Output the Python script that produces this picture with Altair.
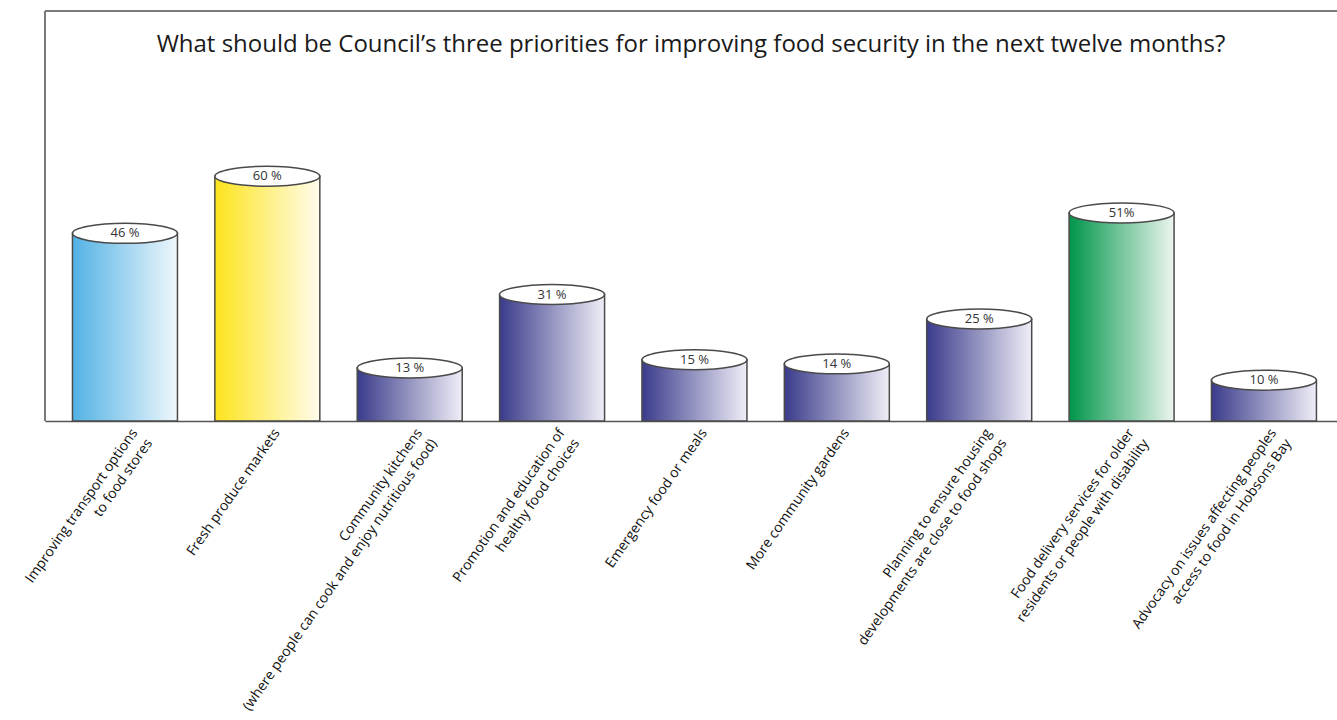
import altair as alt
import pandas as pd

title_text = "What should be Council\u2019s three priorities for improving food security in the next twelve months?"

categories = [
    "Improving transport options\nto food stores",
    "Fresh produce markets",
    "Community kitchens\n(where people can cook and enjoy nutritious food)",
    "Promotion and education of\nhealthy food choices",
    "Emergency food or meals",
    "More community gardens",
    "Planning to ensure housing\ndevelopments are close to food shops",
    "Food delivery services for older\nresidents or people with disability",
    "Advocacy on issues affecting peoples\naccess to food in Hobsons Bay",
]
values = [46, 60, 13, 31, 15, 14, 25, 51, 10]
value_labels = ["46 %", "60 %", "13 %", "31 %", "15 %", "14 %", "25 %", "51%", "10 %"]
groups = ["blue", "yellow", "navy", "navy", "navy", "navy", "navy", "green", "navy"]

gradient_stops = {
    "blue": ["#52b2e4", "#eff7fc"],
    "yellow": ["#fde41c", "#fffcec"],
    "navy": ["#3a3b8b", "#efeef7"],
    "green": ["#00964a", "#ecf5ee"],
}

df = pd.DataFrame({"category": categories, "value": values,
                   "label": value_labels, "group": groups})

W = 1292
H = 410

x_enc = alt.X("category:N", sort=categories,
              scale=alt.Scale(domain=categories, paddingInner=0.2626,
                              paddingOuter=0.1687, align=0.572),
              axis=alt.Axis(title=None, labelAngle=-55, labelAlign="right",
                            labelBaseline="top", labelPadding=5, labelOffset=4,
                            labelExpr="split(datum.label, '\\n')",
                            labelFont="Open Sans", labelFontSize=14,
                            labelColor="#111", labelLineHeight=18,
                            ticks=False, domainColor="#555", domainWidth=1.6,
                            labelLimit=0, labelOverlap=False))
y_enc = alt.Y("value:Q", scale=alt.Scale(domain=[0, 100.5], nice=False),
              axis=None)

base = alt.Chart(df)

layers = []
for g, (c0, c1) in gradient_stops.items():
    grad = alt.Gradient(gradient="linear",
                        stops=[alt.GradientStop(color=c0, offset=0),
                               alt.GradientStop(color=c1, offset=1)],
                        x1=0, x2=1, y1=0, y2=0)
    layers.append(
        base.transform_filter(alt.datum.group == g)
        .mark_bar(fill=grad, stroke="#4a4a4a", strokeWidth=1.5)
        .encode(x=x_enc, y=y_enc)
    )

ellipse_path = "M -1 0 A 1 0.19 0 1 1 1 0 A 1 0.19 0 1 1 -1 0 Z"
tops = base.mark_point(shape=ellipse_path, size=105 * 105, filled=True,
                       fill="white", fillOpacity=1, opacity=1,
                       stroke="#4a4a4a", strokeWidth=1.5).encode(x=x_enc, y=y_enc)

top_text = base.mark_text(font="Open Sans", fontSize=13, color="#333",
                          baseline="middle", align="center").encode(
    x=x_enc, y=y_enc, text="label:N")

frame_top = alt.Chart(pd.DataFrame({"k": [0]})).mark_rule(
    color="#7a7a7a", strokeWidth=2).encode(
    x=alt.value(0), x2=alt.value(W), y=alt.value(0))
frame_left = alt.Chart(pd.DataFrame({"k": [0]})).mark_rule(
    color="#7a7a7a", strokeWidth=2).encode(
    x=alt.value(0), y=alt.value(0), y2=alt.value(H))

title = alt.Chart(pd.DataFrame({"t": [title_text]})).mark_text(
    font="Open Sans", fontSize=24, color="#1a1a1a", align="center",
    baseline="middle").encode(text="t:N", x=alt.value(W / 2), y=alt.value(34))

chart = alt.layer(*layers, tops, top_text, frame_top, frame_left, title).properties(
    width=W, height=H,
    autosize=alt.AutoSizeParams(type="none"),
    padding={"left": 45, "top": 11, "right": 0, "bottom": 299},
).configure_view(stroke=None).configure(background="white")

chart.save("out.html", embed_options={"renderer": "svg", "actions": False})
